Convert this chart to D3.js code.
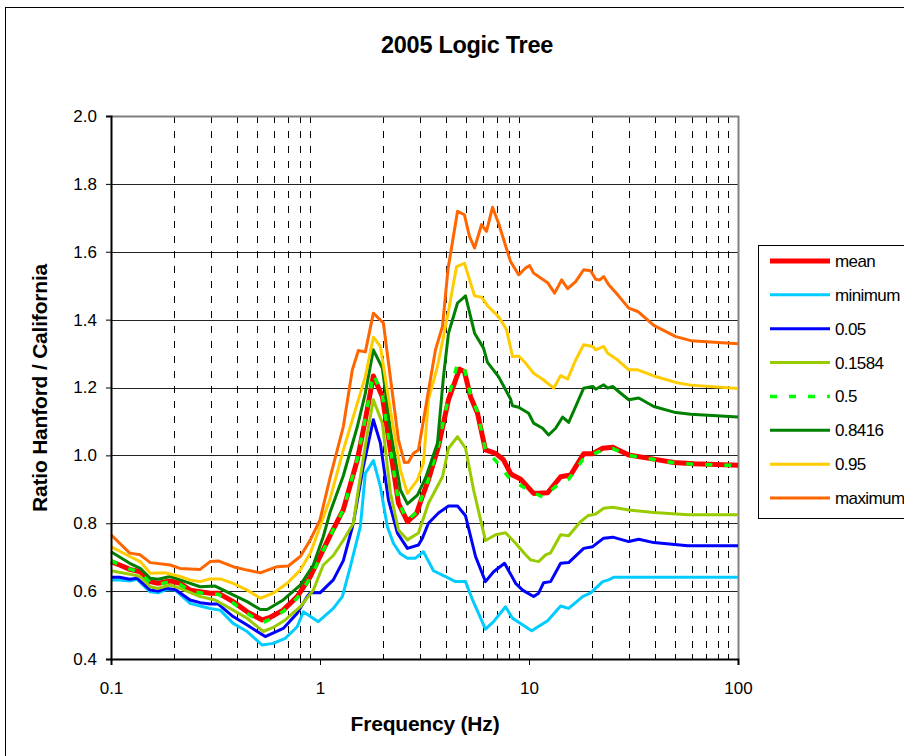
<!DOCTYPE html>
<html>
<head>
<meta charset="utf-8">
<script src="https://cdn.jsdelivr.net/npm/d3@7"></script>
<style>
  html, body { margin: 0; padding: 0; background: #fff; }
  svg { display: block; }
  text { font-family: Arial, "Liberation Sans", sans-serif; fill: #000; }
</style>
</head>
<body>
<svg id="chart" width="904" height="756"></svg>
<script>
// Spectral ratio (Hanford / California) by logic-tree fractile, as [frequency Hz, ratio]
const meanData = [[0.1,0.687],[0.11,0.677],[0.123,0.664],[0.138,0.657],[0.154,0.628],[0.168,0.623],[0.192,0.630],[0.214,0.623],[0.239,0.603],[0.267,0.598],[0.298,0.594],[0.326,0.594],[0.384,0.569],[0.448,0.539],[0.529,0.515],[0.578,0.523],[0.667,0.544],[0.778,0.584],[0.899,0.643],[1.0,0.702],[1.12,0.765],[1.293,0.840],[1.509,0.987],[1.648,1.105],[1.80,1.234],[1.988,1.173],[2.172,1.016],[2.373,0.859],[2.62,0.805],[2.9,0.830],[3.126,0.888],[3.303,0.928],[3.688,1.026],[4.119,1.164],[4.65,1.254],[4.91,1.247],[5.25,1.173],[5.67,1.124],[6.19,1.016],[6.92,1.006],[7.55,0.987],[8.16,0.947],[8.34,0.942],[9.12,0.930],[10.52,0.888],[12.28,0.890],[14.17,0.937],[15.82,0.942],[18.26,1.005],[20.17,1.005],[22.52,1.021],[25.15,1.024],[30.0,1.001],[39.54,0.989],[49.3,0.979],[61.5,0.975],[100,0.971]];

const minimumData = [[0.1,0.633],[0.11,0.633],[0.123,0.630],[0.133,0.635],[0.154,0.598],[0.168,0.595],[0.185,0.605],[0.203,0.603],[0.239,0.564],[0.267,0.556],[0.298,0.549],[0.333,0.544],[0.384,0.505],[0.448,0.481],[0.529,0.441],[0.597,0.446],[0.682,0.461],[0.778,0.495],[0.832,0.539],[0.981,0.510],[1.158,0.549],[1.279,0.584],[1.397,0.672],[1.56,0.790],[1.648,0.947],[1.80,0.985],[1.945,0.908],[2.10,0.790],[2.245,0.741],[2.425,0.710],[2.62,0.697],[2.862,0.697],[3.126,0.716],[3.491,0.660],[3.985,0.643],[4.449,0.628],[4.97,0.628],[5.37,0.574],[6.19,0.488],[6.77,0.510],[7.72,0.554],[8.34,0.520],[10.3,0.483],[12.28,0.513],[14.17,0.556],[15.48,0.549],[18.06,0.584],[19.73,0.595],[22.52,0.628],[24.06,0.633],[25.43,0.641],[100,0.641]];

const p05Data = [[0.1,0.641],[0.11,0.641],[0.123,0.635],[0.133,0.638],[0.154,0.603],[0.168,0.600],[0.185,0.608],[0.203,0.605],[0.239,0.574],[0.267,0.566],[0.298,0.562],[0.326,0.562],[0.384,0.525],[0.448,0.500],[0.547,0.466],[0.667,0.490],[0.778,0.535],[0.869,0.584],[0.899,0.595],[1.0,0.595],[1.158,0.633],[1.293,0.690],[1.444,0.800],[1.612,0.967],[1.80,1.105],[1.945,1.036],[2.125,0.869],[2.347,0.771],[2.62,0.726],[2.958,0.736],[3.09,0.756],[3.303,0.800],[3.688,0.830],[4.119,0.851],[4.55,0.851],[4.97,0.822],[5.55,0.702],[6.19,0.628],[6.77,0.657],[7.64,0.682],[8.63,0.623],[9.32,0.603],[10.52,0.584],[11.12,0.594],[11.75,0.625],[12.69,0.628],[14.17,0.682],[15.48,0.684],[18.26,0.726],[20.17,0.731],[22.77,0.756],[25.15,0.759],[30.0,0.746],[33.52,0.753],[39.54,0.743],[57.5,0.734],[100,0.734]];

const p1584Data = [[0.1,0.660],[0.123,0.650],[0.138,0.643],[0.154,0.613],[0.168,0.608],[0.192,0.618],[0.214,0.608],[0.267,0.584],[0.315,0.574],[0.384,0.544],[0.448,0.520],[0.535,0.481],[0.597,0.493],[0.682,0.515],[0.805,0.554],[0.929,0.603],[1.037,0.677],[1.158,0.705],[1.293,0.750],[1.444,0.800],[1.526,0.900],[1.685,1.065],[1.80,1.164],[1.988,1.095],[2.172,0.890],[2.373,0.780],[2.62,0.751],[2.958,0.771],[3.303,0.859],[3.855,0.937],[4.119,1.021],[4.55,1.055],[4.97,1.021],[5.43,0.898],[6.19,0.749],[6.92,0.766],[7.72,0.772],[8.63,0.741],[9.63,0.707],[10.18,0.692],[11.12,0.687],[12.01,0.707],[12.69,0.713],[14.17,0.766],[15.48,0.763],[17.67,0.805],[19.09,0.822],[20.85,0.827],[22.77,0.844],[25.15,0.847],[30.0,0.839],[39.54,0.832],[57.5,0.825],[100,0.825]];

const p50Data = [[0.1,0.690],[0.11,0.678],[0.123,0.665],[0.138,0.656],[0.154,0.626],[0.168,0.620],[0.192,0.628],[0.214,0.620],[0.239,0.600],[0.267,0.595],[0.298,0.590],[0.326,0.591],[0.384,0.565],[0.448,0.534],[0.529,0.507],[0.578,0.517],[0.667,0.540],[0.778,0.580],[0.899,0.640],[1.0,0.700],[1.12,0.763],[1.293,0.840],[1.509,0.990],[1.648,1.110],[1.80,1.240],[1.988,1.178],[2.172,1.020],[2.373,0.862],[2.62,0.808],[2.9,0.832],[3.126,0.890],[3.303,0.930],[3.688,1.030],[4.119,1.172],[4.55,1.270],[4.91,1.255],[5.25,1.178],[5.67,1.128],[6.19,1.015],[6.92,0.985],[8.16,0.928],[9.63,0.903],[11.62,0.877],[13.71,0.913],[15.48,0.930],[18.06,0.987],[21.55,1.011],[25.15,1.020],[30.0,1.000],[39.54,0.988],[49.3,0.978],[61.5,0.974],[100,0.970]];

const p8416Data = [[0.1,0.716],[0.123,0.682],[0.138,0.667],[0.154,0.638],[0.168,0.635],[0.192,0.643],[0.214,0.633],[0.267,0.613],[0.315,0.615],[0.384,0.589],[0.448,0.569],[0.518,0.546],[0.559,0.546],[0.667,0.574],[0.805,0.618],[0.929,0.677],[1.037,0.761],[1.12,0.834],[1.293,0.940],[1.509,1.085],[1.648,1.183],[1.80,1.311],[1.988,1.257],[2.172,1.075],[2.425,0.898],[2.62,0.857],[2.925,0.883],[3.196,0.933],[3.648,1.036],[3.898,1.232],[4.119,1.360],[4.55,1.449],[4.97,1.470],[5.49,1.360],[6.06,1.316],[6.33,1.274],[7.15,1.232],[8.16,1.166],[8.34,1.146],[8.92,1.142],[9.96,1.124],[10.52,1.095],[11.62,1.080],[12.41,1.060],[13.41,1.080],[14.49,1.113],[15.48,1.097],[16.72,1.144],[18.26,1.198],[20.17,1.203],[20.85,1.195],[22.77,1.208],[23.8,1.198],[25.15,1.203],[27.48,1.183],[30.0,1.164],[33.52,1.169],[39.54,1.144],[50.4,1.126],[59.5,1.121],[100,1.113]];

const p95Data = [[0.1,0.731],[0.123,0.702],[0.138,0.687],[0.154,0.653],[0.181,0.654],[0.214,0.643],[0.239,0.633],[0.267,0.628],[0.298,0.636],[0.333,0.636],[0.384,0.623],[0.448,0.603],[0.518,0.579],[0.597,0.594],[0.697,0.623],[0.805,0.662],[0.899,0.712],[1.0,0.790],[1.12,0.874],[1.293,1.016],[1.476,1.134],[1.648,1.232],[1.80,1.348],[1.945,1.321],[2.172,1.134],[2.425,0.957],[2.62,0.888],[2.925,0.928],[3.126,0.977],[3.303,1.164],[3.648,1.262],[4.074,1.409],[4.50,1.556],[4.91,1.566],[5.49,1.470],[5.93,1.466],[6.33,1.441],[7.15,1.409],[7.81,1.370],[8.34,1.291],[8.92,1.293],[9.63,1.272],[10.52,1.242],[11.75,1.222],[13.12,1.198],[14.17,1.235],[15.31,1.225],[16.72,1.281],[18.26,1.326],[20.17,1.321],[20.85,1.311],[22.77,1.321],[23.8,1.301],[26.58,1.281],[30.0,1.252],[33.15,1.252],[39.54,1.234],[50.4,1.215],[59.5,1.207],[100,1.197]];

const maximumData = [[0.1,0.766],[0.123,0.712],[0.138,0.707],[0.154,0.684],[0.192,0.677],[0.214,0.667],[0.267,0.664],[0.298,0.687],[0.326,0.689],[0.384,0.672],[0.448,0.662],[0.518,0.654],[0.578,0.665],[0.624,0.672],[0.705,0.674],[0.805,0.702],[0.899,0.751],[1.0,0.810],[1.12,0.937],[1.293,1.085],[1.428,1.252],[1.526,1.309],[1.648,1.305],[1.80,1.419],[2.01,1.390],[2.22,1.183],[2.373,1.046],[2.534,0.979],[2.65,0.980],[2.80,1.006],[2.958,1.016],[3.267,1.173],[3.568,1.311],[3.855,1.380],[4.10,1.550],[4.55,1.719],[4.91,1.709],[5.19,1.645],[5.49,1.611],[5.93,1.680],[6.26,1.660],[6.69,1.731],[7.15,1.684],[8.16,1.571],[8.92,1.532],[9.63,1.552],[10.07,1.559],[10.52,1.537],[12.28,1.509],[13.26,1.478],[14.33,1.517],[15.31,1.491],[16.72,1.512],[18.26,1.547],[19.73,1.544],[20.85,1.519],[21.79,1.517],[22.77,1.527],[24.06,1.503],[26.58,1.473],[30.0,1.434],[33.15,1.424],[39.54,1.383],[50.4,1.350],[59.5,1.338],[100,1.329]];

const seriesNames = ["mean", "minimum", "0.05", "0.1584", "0.5", "0.8416", "0.95", "maximum"];
const seriesValues = [meanData, minimumData, p05Data, p1584Data, p50Data, p8416Data, p95Data, maximumData];
const seriesColors = ["#ff0000", "#00ccff", "#0000ff", "#99cc00", "#00ff00", "#008000", "#ffcc00", "#ff6600"];
const seriesWidths = [5, 3, 3, 3, 3.5, 3, 3, 3];
const seriesDash = [null, null, null, null, "7,12", null, null, null];

const yTicks = [0.4, 0.6, 0.8, 1.0, 1.2, 1.4, 1.6, 1.8, 2.0];
const xTicks = [0.1, 1, 10, 100];
const xTickLabels = ["0.1", "1", "10", "100"];

const svg = d3.select("#chart");

// chart frame
svg.append("rect")
  .attr("x", 5.5).attr("y", 7.5)
  .attr("width", 910).attr("height", 760)
  .attr("fill", "none").attr("stroke", "#000").attr("stroke-width", 1);

const plot = { left: 111, right: 738, top: 116, bottom: 659 };

const x = d3.scaleLog().domain([0.1, 100]).range([plot.left, plot.right]);
const y = d3.scaleLinear().domain([0.4, 2.0]).range([plot.bottom, plot.top]);

// horizontal gridlines
svg.append("g")
  .selectAll("line")
  .data(yTicks.slice(1, -1))
  .join("line")
  .attr("x1", plot.left).attr("x2", plot.right)
  .attr("y1", d => Math.round(y(d)) + 0.5).attr("y2", d => Math.round(y(d)) + 0.5)
  .attr("stroke", "#222").attr("stroke-width", 1);

// minor vertical gridlines, dashed, at 2..9 of each decade
const minor = [];
[0.1, 1, 10].forEach(dec => { for (let k = 2; k <= 9; k++) minor.push(dec * k); });
svg.append("g")
  .selectAll("line")
  .data(minor)
  .join("line")
  .attr("x1", d => Math.round(x(d)) + 0.5).attr("x2", d => Math.round(x(d)) + 0.5)
  .attr("y1", plot.top).attr("y2", plot.bottom)
  .attr("stroke", "#000").attr("stroke-width", 1)
  .attr("stroke-dasharray", "7,8");

// plot-area border (top and right)
svg.append("path")
  .attr("d", `M${plot.left},${plot.top + 0.5}H${plot.right + 0.5}V${plot.bottom}`)
  .attr("fill", "none").attr("stroke", "#808080").attr("stroke-width", 2);

// series lines
const line = d3.line().x(d => x(d[0])).y(d => y(d[1]));
const lines = svg.append("g").attr("fill", "none").attr("stroke-linejoin", "round");
seriesValues.forEach((vals, i) => {
  lines.append("path")
    .datum(vals)
    .attr("d", line)
    .attr("stroke", seriesColors[i])
    .attr("stroke-width", seriesWidths[i])
    .attr("stroke-dasharray", seriesDash[i]);
});

// y axis
const yAxis = svg.append("g")
  .attr("transform", `translate(${plot.left},0)`)
  .call(d3.axisLeft(y).tickValues(yTicks).tickFormat(d3.format(".1f")).tickSize(5).tickPadding(9));
yAxis.select(".domain").attr("stroke", "#000").attr("stroke-width", 2);
yAxis.selectAll(".tick line").attr("stroke", "#000");
yAxis.selectAll("text").style("font-size", "17px").attr("font-family", null);

// x axis
const xAxis = svg.append("g")
  .attr("transform", `translate(0,${plot.bottom})`)
  .call(d3.axisBottom(x).tickValues(xTicks).tickFormat((d, i) => xTickLabels[i]).tickSize(6).tickPadding(17));
xAxis.select(".domain").attr("stroke", "#000").attr("stroke-width", 2);
xAxis.selectAll(".tick line").attr("stroke", "#000");
xAxis.selectAll("text").style("font-size", "17px").attr("font-family", null);

// minor ticks inside the x axis
svg.append("g")
  .selectAll("line")
  .data(minor)
  .join("line")
  .attr("x1", d => Math.round(x(d)) + 0.5).attr("x2", d => Math.round(x(d)) + 0.5)
  .attr("y1", plot.bottom - 5).attr("y2", plot.bottom)
  .attr("stroke", "#000");

// titles
svg.append("text")
  .attr("x", 467).attr("y", 53)
  .attr("text-anchor", "middle")
  .style("font-size", "23.5px").style("font-weight", "bold")
  .style("letter-spacing", "-0.3px")
  .text("2005 Logic Tree");

svg.append("text")
  .attr("x", 425).attr("y", 731)
  .attr("text-anchor", "middle")
  .style("font-size", "21px").style("font-weight", "bold")
  .style("letter-spacing", "-0.2px")
  .text("Frequency (Hz)");

svg.append("text")
  .attr("transform", "translate(47,388) rotate(-90)")
  .attr("text-anchor", "middle")
  .style("font-size", "21px").style("font-weight", "bold")
  .style("letter-spacing", "-0.2px")
  .text("Ratio Hanford / California");

// legend
const legend = svg.append("g");
legend.append("rect")
  .attr("x", 758.5).attr("y", 245.5)
  .attr("width", 160).attr("height", 273)
  .attr("fill", "#fff").attr("stroke", "#000").attr("stroke-width", 1);

const legendY = d3.scaleLinear().domain([0, 7]).range([261, 498]);
seriesNames.forEach((name, i) => {
  const ly = legendY(i);
  legend.append("line")
    .attr("x1", 770).attr("x2", 830)
    .attr("y1", ly).attr("y2", ly)
    .attr("stroke", seriesColors[i])
    .attr("stroke-width", seriesWidths[i])
    .attr("stroke-dasharray", seriesDash[i]);
  legend.append("text")
    .attr("x", 835).attr("y", ly + 6)
    .style("font-size", "17px")
    .style("letter-spacing", "-0.6px")
    .text(name);
});
</script>
</body>
</html>
